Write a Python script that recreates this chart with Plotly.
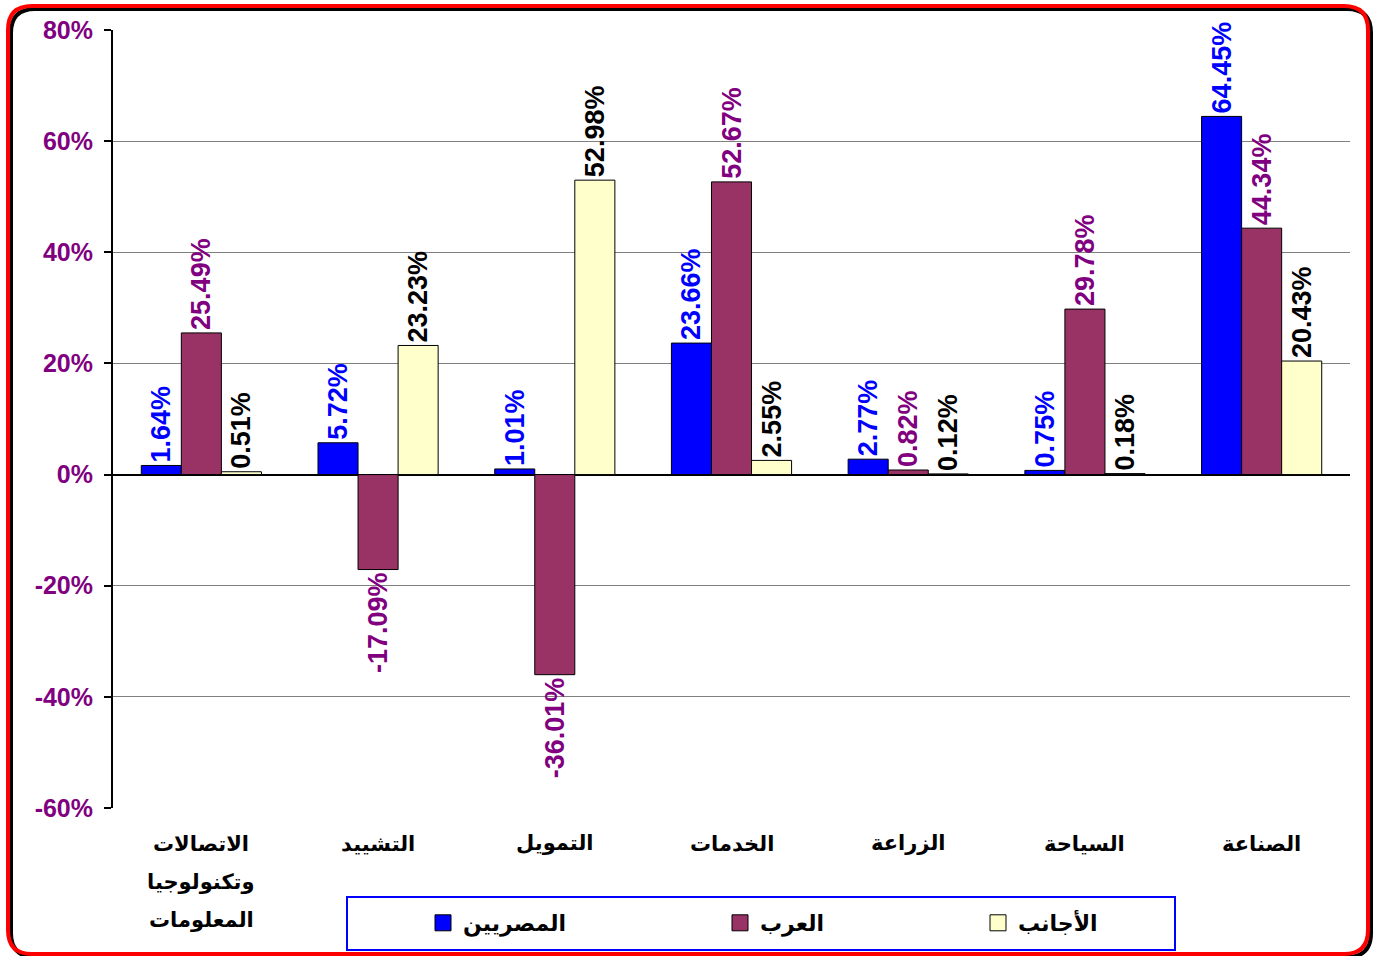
import plotly.graph_objects as go

categories = ["الاتصالات وتكنولوجيا المعلومات", "التشييد", "التمويل", "الخدمات",
              "الزراعة", "السياحة", "الصناعة"]
category_lines = [["الاتصالات", "وتكنولوجيا", "المعلومات"], ["التشييد"], ["التمويل"],
                  ["الخدمات"], ["الزراعة"], ["السياحة"], ["الصناعة"]]
egyptians = [1.64, 5.72, 1.01, 23.66, 2.77, 0.75, 64.45]
arabs = [25.49, -17.09, -36.01, 52.67, 0.82, 29.78, 44.34]
foreigners = [0.51, 23.23, 52.98, 2.55, 0.12, 0.18, 20.43]
series_names = ["المصريين", "العرب", "الأجانب"]
y_min, y_max, y_step = -60, 80, 20
y_ticks = list(range(y_min, y_max + 1, y_step))
y_ticktext = [f"{v}%" for v in y_ticks]

W, H = 1376, 956
L, R, T, B = 113, 26, 30, 148
PW, PH = W - L - R, H - T - B

FONT = "Liberation Sans, Arial, DejaVu Sans"


def px2paper(px, py):
    return (px - L) / PW, (H - B - py) / PH


fig = go.Figure()
specs = [
    (egyptians, "#0000FF", "#0000FF", 423),
    (arabs, "#993366", "#800080", 720),
    (foreigners, "#FFFFCC", "#000000", 978),
]
legend_layouts = {}
lcy = px2paper(0, 923)[1]
for i, (name, (vals, col, tcol, lx)) in enumerate(zip(series_names, specs)):
    lname = "legend" if i == 0 else f"legend{i + 1}"
    fig.add_trace(go.Bar(
        x=categories, y=vals, name=name, showlegend=False,
        marker=dict(color=col, line=dict(color="#000000", width=1)),
        texttemplate="%{y:.2f}%", textposition="outside", textangle=-90,
        constraintext="none", cliponaxis=False,
        outsidetextfont=dict(family=FONT, size=27, color=tcol, weight="bold"),
        hoverinfo="skip",
    ))
    fig.add_trace(go.Scatter(
        x=[None], y=[None], name=name, mode="markers", legend=lname,
        marker=dict(symbol="square", size=16, color=col,
                    line=dict(color="#000000", width=1)),
        hoverinfo="skip",
    ))
    legend_layouts[lname] = dict(
        orientation="h", x=px2paper(lx, 0)[0], y=lcy, xanchor="left", yanchor="middle",
        font=dict(family=FONT, size=22, color="#000000", weight="bold"),
        bgcolor="rgba(0,0,0,0)", borderwidth=0)

n = len(categories)


def rounded_rect(x0, y0, x1, y1, r):
    def P(x, y):
        a, b = px2paper(x, y)
        return f"{a:.5f},{b:.5f}"
    return (f"M {P(x0 + r, y0)} L {P(x1 - r, y0)} Q {P(x1, y0)} {P(x1, y0 + r)} "
            f"L {P(x1, y1 - r)} Q {P(x1, y1)} {P(x1 - r, y1)} "
            f"L {P(x0 + r, y1)} Q {P(x0, y1)} {P(x0, y1 - r)} "
            f"L {P(x0, y0 + r)} Q {P(x0, y0)} {P(x0 + r, y0)} Z")


shapes = [
    dict(type="path", xref="paper", yref="paper", path=rounded_rect(11, 9, 1371, 957, 24),
         line=dict(color="#000000", width=4), layer="below"),
    dict(type="path", xref="paper", yref="paper", path=rounded_rect(8, 6, 1368, 954, 24),
         line=dict(color="#FF0000", width=4), layer="below"),
]
lx0, ly0 = px2paper(347, 950)
lx1, ly1 = px2paper(1175, 897)
shapes.append(dict(type="rect", xref="paper", yref="paper", x0=lx0, y0=ly0, x1=lx1, y1=ly1,
                   line=dict(color="#0000FF", width=2), fillcolor="rgba(0,0,0,0)"))

annotations = []
for cat, lines in zip(categories, category_lines):
    for j, line in enumerate(lines):
        annotations.append(dict(
            x=cat, xref="x", y=0, yref="paper", text=line, showarrow=False,
            xanchor="center", yanchor="middle", yshift=-(35 + j * 38.5),
            font=dict(family=FONT, size=21, color="#000000", weight="bold")))

fig.update_layout(
    width=W, height=H,
    margin=dict(l=L, r=R, t=T, b=B, autoexpand=False),
    paper_bgcolor="white", plot_bgcolor="white",
    barmode="group", bargap=0.32, bargroupgap=0,
    showlegend=True,
    **legend_layouts,
    xaxis=dict(type="category", range=[-0.5, n - 0.5], showline=False, showgrid=False,
               ticks="", showticklabels=False, fixedrange=True),
    xaxis2=dict(overlaying="x", anchor="free", position=(0 - y_min) / (y_max - y_min),
                range=[-0.5, n - 0.5], tickmode="array",
                tickvals=[i - 0.5 for i in range(n + 1)], showticklabels=False,
                ticks="outside", ticklen=8, tickwidth=2, tickcolor="#000000",
                showline=True, linecolor="#000000", linewidth=2, showgrid=False,
                zeroline=False, side="bottom"),
    yaxis=dict(range=[y_min, y_max], tickmode="array", tickvals=y_ticks,
               ticktext=y_ticktext, ticklabelstandoff=6,
               showline=True, linecolor="#000000", linewidth=2,
               ticks="outside", ticklen=7, tickwidth=2, tickcolor="#000000",
               showgrid=True, gridcolor="#808080", gridwidth=1,
               zeroline=True, zerolinecolor="#000000", zerolinewidth=2,
               tickfont=dict(family=FONT, size=25, color="#800080", weight="bold"),
               fixedrange=True),
    shapes=shapes,
    annotations=annotations,
)

fig.write_html("out.html", config={"displayModeBar": False},
               post_script="document.body.style.margin='0px';")
